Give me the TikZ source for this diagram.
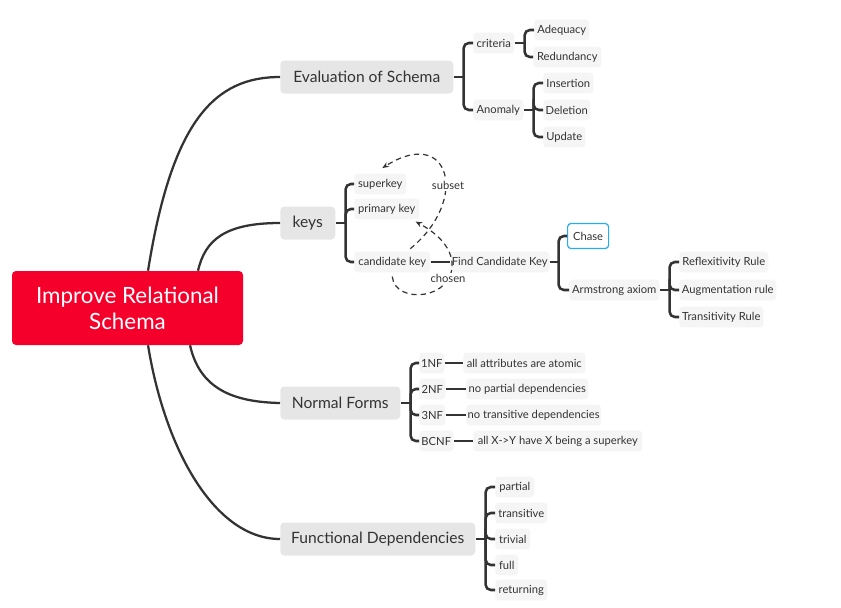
\documentclass[tikz,border=0pt]{standalone}
\usepackage{fontspec}
\setmainfont{Lato}
\usetikzlibrary{arrows.meta, positioning, calc}
\definecolor{rootred}{RGB}{245, 0, 43}
\definecolor{topicgray}{RGB}{230, 230, 230}
\definecolor{subgray}{RGB}{245, 245, 245}
\definecolor{linegray}{RGB}{51, 51, 51}
\definecolor{chaseblue}{RGB}{41, 171, 240}

\begin{document}
\begin{tikzpicture}[
    x=0.75pt, y=-0.75pt,
    >=Stealth,
    root/.style={rectangle, rounded corners=3pt, fill=rootred, text=white, align=center, minimum width=173.25pt, minimum height=55.5pt, font=\fontsize{16.8}{19.5}\selectfont},
    topic/.style={rectangle, rounded corners=3pt, fill=topicgray, text=linegray, minimum height=24.75pt, anchor=west, font=\fontsize{11.7}{13}\selectfont},
    sub/.style={rectangle, rounded corners=2.5pt, fill=subgray, text=linegray, minimum height=15.5pt, inner xsep=1pt, anchor=west, font=\fontsize{8.4}{9.5}\selectfont},
    boxw/.style={minimum width=#1*0.75pt},
    curve/.style={line width=1.7pt, linegray},
    branch/.style={line width=1.9pt, linegray},
    bracket/.style={branch, rounded corners=4pt},
    relation/.style={-{Stealth[length=5pt, width=4pt]}, line width=0.9pt, linegray, dash pattern=on 4pt off 3pt},
    rellabel/.style={fill=white, inner sep=1pt, text=linegray, font=\fontsize{8.4}{9.5}\selectfont}
]
\useasboundingbox (0, 0) rectangle (841, 607);

% === Centro ===
\node[root] (root) at (127.5, 308) {Improve Relational\\Schema};

% === Temas principales ===
\node[topic, boxw=173] (ev) at (280, 77) {Evaluation of Schema};
\node[topic, boxw=55] (keys) at (280, 223) {keys};
\node[topic, boxw=120] (nf) at (280, 403) {Normal Forms};
\node[topic, boxw=195] (fd) at (280, 539) {Functional Dependencies};

% Curvas desde el centro
\draw[curve] ([xshift=15.4pt]root.north) .. controls (172, 120) and (215, 77) .. (ev.west);
\draw[curve] ([xshift=52.9pt]root.north) .. controls (205, 240) and (225, 223) .. (keys.west);
\draw[curve] ([xshift=46.9pt]root.south) .. controls (200, 390) and (235, 402) .. (nf.west);
\draw[curve] ([xshift=15.4pt]root.south) .. controls (165, 450) and (215, 539) .. (fd.west);

% === Evaluation of Schema ===
\node[sub, boxw=41] (crit) at (473, 43) {criteria};
\node[sub, boxw=55] (adeq) at (534, 30) {Adequacy};
\node[sub, boxw=68] (redun) at (533, 57) {Redundancy};
\node[sub, boxw=50] (anom) at (473, 110) {Anomaly};
\node[sub, boxw=50] (ins) at (543, 83) {Insertion};
\node[sub, boxw=47] (del) at (543, 110) {Deletion};
\node[sub, boxw=42] (upd) at (543, 137) {Update};

\draw[branch] (ev.east) -- ++(10, 0) coordinate (evj);
\draw[bracket] (evj) |- (crit.west);
\draw[bracket] (evj) |- (anom.west);
\draw[branch] (crit.east) -- ++(10, 0) coordinate (critj);
\draw[bracket] (critj) |- (adeq.west);
\draw[bracket] (critj) |- (redun.west);
\draw[branch] (anom.east) -- ++(10, 0) coordinate (anomj);
\draw[bracket] (anomj) |- (ins.west);
\draw[bracket] (anomj) |- (del.west);
\draw[bracket] (anomj) |- (upd.west);

% === keys ===
\node[sub, boxw=52] (sk) at (354, 184) {superkey};
\node[sub, boxw=65] (pk) at (354, 209) {primary key};
\node[sub, boxw=76] (ck) at (354, 262) {candidate key};
\node[sub, boxw=99] (find) at (450, 262) {Find Candidate Key};
\node[sub, boxw=41, minimum height=18.75pt, fill=white, draw=chaseblue, line width=0.9pt] (chase) at (567, 236) {Chase};
\node[sub, boxw=90] (arm) at (569, 290) {Armstrong axiom};
\node[sub, boxw=89] (refl) at (679, 262) {Reflexitivity Rule};
\node[sub, boxw=97] (augm) at (679, 290) {Augmentation rule};
\node[sub, boxw=84] (trans) at (679, 317) {Transitivity Rule};

\draw[branch] (keys.east) -- ++(10, 0) coordinate (keysj);
\draw[bracket] (keysj) |- (sk.west);
\draw[bracket] (keysj) |- (pk.west);
\draw[bracket] (keysj) |- (ck.west);
\draw[branch] (ck.east) -- (find.west);
\draw[branch] (find.east) -- ++(9, 0) coordinate (findj);
\draw[bracket] (findj) |- (chase.west);
\draw[bracket] (findj) |- (arm.west);
\draw[branch] (arm.east) -- ++(10, 0) coordinate (armj);
\draw[bracket] (armj) |- (refl.west);
\draw[bracket] (armj) |- (augm.west);
\draw[bracket] (armj) |- (trans.west);

% Relaciones entre claves
\draw[relation] ([xshift=13.5pt, yshift=2pt]ck.north) .. controls (470, 200) and (450, 125) .. ([xshift=1.5pt, yshift=4pt]sk.north);
\draw[relation] ([yshift=-3pt]ck.south) .. controls (395, 305) and (455, 300) .. (452, 262) .. controls (450, 245) and (435, 232) .. ([xshift=-3pt, yshift=-1.5pt]pk.south east);
\node[rellabel] (subset) at (448, 185) {subset};
\node[rellabel] (chosen) at (448, 278) {chosen};

% === Normal Forms ===
\node[sub, boxw=25] (nf1) at (419, 363) {1NF};
\node[sub, boxw=26] (nf2) at (419, 389) {2NF};
\node[sub, boxw=26] (nf3) at (419, 415) {3NF};
\node[sub, boxw=34] (bcnf) at (419, 441) {BCNF};
\node[sub, boxw=122] (d1) at (463, 363) {all attributes are atomic};
\node[sub, boxw=122] (d2) at (466, 389) {no partial dependencies};
\node[sub, boxw=132] (d3) at (466, 415) {no transitive dependencies};
\node[sub, boxw=169] (d4) at (473, 441) {all X->Y have X being a superkey};

\draw[branch] (nf.east) -- ++(10, 0) coordinate (nfj);
\draw[bracket] (nfj) |- (nf1.west);
\draw[bracket] (nfj) |- (nf2.west);
\draw[bracket] (nfj) |- (nf3.west);
\draw[bracket] (nfj) |- (bcnf.west);
\draw[branch] (nf1.east) -- (d1.west);
\draw[branch] (nf2.east) -- (d2.west);
\draw[branch] (nf3.east) -- (d3.west);
\draw[branch] (bcnf.east) -- (d4.west);

% === Functional Dependencies ===
\node[sub, boxw=39] (part) at (495, 487) {partial};
\node[sub, boxw=52] (trs) at (495, 513) {transitive};
\node[sub, boxw=35] (triv) at (495, 539) {trivial};
\node[sub, boxw=23] (full) at (495, 565) {full};
\node[sub, boxw=52] (ret) at (495, 590) {returning};

\draw[branch] (fd.east) -- ++(10, 0) coordinate (fdj);
\draw[bracket] (fdj) |- (part.west);
\draw[bracket] (fdj) |- (trs.west);
\draw[bracket] (fdj) |- (triv.west);
\draw[bracket] (fdj) |- (full.west);
\draw[bracket] (fdj) |- (ret.west);

\end{tikzpicture}
\end{document}
